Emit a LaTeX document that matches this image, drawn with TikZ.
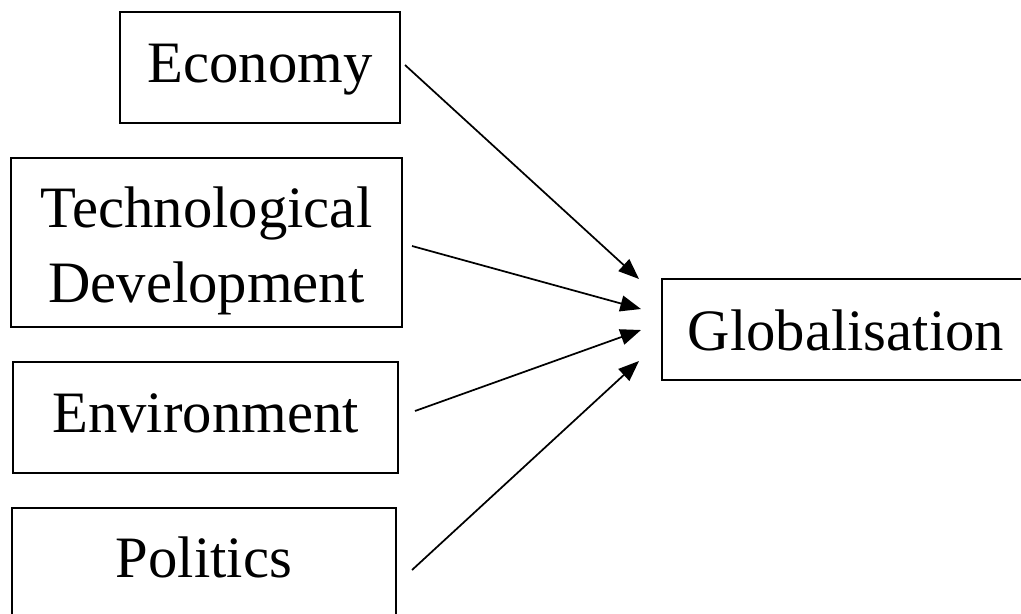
\documentclass[tikz,border=0pt]{standalone}
\usepackage{fontspec}
\setmainfont{Liberation Serif}
\usetikzlibrary{arrows.meta}
\tikzset{
  box/.style={draw, line width=1.3pt, inner sep=0pt, font=\fontsize{44}{56.25}\selectfont,
    text height=30pt, text depth=8.25pt},
  arr/.style={line width=1.3pt, -{Triangle[length=15.5pt,width=12pt]}}
}
\begin{document}
\begin{tikzpicture}[x=0.75pt,y=-0.75pt]
\clip (0,0) rectangle (1021,614);
\fill[white] (0,0) rectangle (1021,614);
\node[box, minimum width=280*0.75pt, minimum height=111*0.75pt] (eco) at (260,67.5) {Economy};
\node[box, align=center, minimum width=391*0.75pt, minimum height=169*0.75pt,
      text height=92pt, text depth=2.75pt] (tech) at (206.5,242.5) {Technological\\Development};
\node[box, minimum width=385*0.75pt, minimum height=111*0.75pt] (env) at (205.5,417.5) {Environment};
\node[box, minimum width=384*0.75pt, minimum height=110*0.75pt] (pol) at (204,563) {Politics};
\node[box, minimum width=368*0.75pt, minimum height=101*0.75pt,
      text height=36pt, text depth=5.25pt] (glob) at (846,329.5) {Globalisation};
% arrow end points
\coordinate (ecoS) at (405,65);
\coordinate (techS) at (412,246);
\coordinate (envS) at (415,411);
\coordinate (polS) at (412,570);
\coordinate (gA) at (639,279);
\coordinate (gB) at (641,309);
\coordinate (gC) at (641,330);
\coordinate (gD) at (639,361);
\draw[arr] (ecoS) -- (gA);
\draw[arr] (techS) -- (gB);
\draw[arr] (envS) -- (gC);
\draw[arr] (polS) -- (gD);
\end{tikzpicture}
\end{document}
